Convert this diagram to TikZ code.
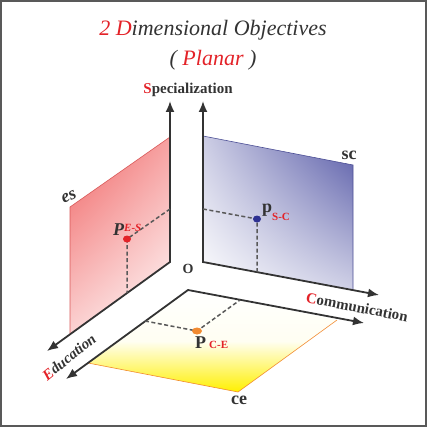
\documentclass[tikz,border=0pt]{standalone}
\usepackage{fontspec}
\setmainfont{Liberation Serif}
\usetikzlibrary{arrows.meta}
\usetikzlibrary{shapes.geometric}
\usetikzlibrary{shadings}
\definecolor{axisgray}{HTML}{333333}
\definecolor{hired}{HTML}{E32228}
\definecolor{esred}{HTML}{F06262}
\definecolor{scblue}{HTML}{5558A6}
\definecolor{dotblue}{HTML}{2E3192}
\definecolor{ceyellow}{HTML}{FFF000}
\definecolor{ceorange}{HTML}{F28A30}
\newcommand{\psub}[2][0pt]{\raisebox{#1}{\fontsize{11}{11}\selectfont\color{hired}#2}}
\tikzset{axis/.style = {draw=axisgray, line width=1.8pt, {Latex[length=11pt,width=9pt]}-{Latex[length=11pt,width=9pt]}}}
\tikzset{guide/.style = {draw=gray!70!black, dash pattern=on 4pt off 2.5pt, line width=1.5pt}}
\tikzset{dot/.style = {ellipse, inner sep=0, minimum width=8pt, minimum height=7pt}}
\tikzset{axlabel/.style = {font=\bfseries\fontsize{15}{15}\selectfont, text=axisgray}}
\tikzset{planelabel/.style = {font=\bfseries\fontsize{18}{18}\selectfont, text=axisgray}}
\tikzset{plab/.style = {planelabel, anchor=base west, inner sep=0}}
\tikzset{title/.style = {font=\itshape\fontsize{22}{22}\selectfont, text=axisgray}}

\begin{document}
\begin{tikzpicture}[x=1pt, y=-1pt]
  \useasboundingbox (0,0) rectangle (427,427);
  \draw[gray!70!black, line width=2pt] (1,1) rectangle (426,426);
  % left system
  \coordinate (Ol) at (170,262);
  \coordinate (Sl) at (170,101);
  \coordinate (El) at (47,351);
  \coordinate (es-top) at (170,137);
  \coordinate (es-far) at (70,207);
  \coordinate (es-low) at (70,334);
  % right system
  \coordinate (Or) at (203,262);
  \coordinate (Sr) at (203,101);
  \coordinate (Cr) at (379,295);
  \coordinate (sc-top) at (203,136);
  \coordinate (sc-far) at (353,165);
  \coordinate (sc-low) at (353,290);
  % bottom system
  \coordinate (Ob) at (188,290);
  \coordinate (Cb) at (364,323);
  \coordinate (Eb) at (66,379);
  \coordinate (ce-c) at (337,320);
  \coordinate (ce-far) at (238,392);
  \coordinate (ce-e) at (88,363);

  % planes
  \shade[upper left=esred, upper right=esred!60, lower left=esred!28, lower right=white]
    (es-top) -- (es-far) -- (es-low) -- (Ol) -- cycle;
  \draw[esred!90!black, line width=0.6pt] (es-low) -- (es-far) -- (es-top);
  \shade[upper left=scblue!30, upper right=scblue, lower left=white, lower right=scblue!28]
    (sc-top) -- (sc-far) -- (sc-low) -- (Or) -- cycle;
  \draw[scblue!90!black, line width=0.6pt] (sc-top) -- (sc-far) -- (sc-low);
  \shade[top color=white, bottom color=ceyellow, middle color=ceyellow!5]
    (Ob) -- (ce-c) -- (ce-far) -- (ce-e) -- cycle;
  \draw[ceorange, line width=0.6pt] (ce-c) -- (ce-far) -- (ce-e);

  % axes
  \draw[axis] (Sl) -- (Ol) -- (El);
  \draw[axis] (Sr) -- (Or) -- (Cr);
  \draw[axis] (Eb) -- (Ob) -- (Cb);

  % points and guides
  \coordinate (es-s) at (170,209);
  \coordinate (es-e) at (127,293);
  \coordinate (sc-s) at (203,209);
  \coordinate (sc-c) at (257,272);
  \coordinate (ce-ee) at (145,321);
  \coordinate (ce-cc) at (240,300);
  \draw[guide] (es-s) -- (127,239) -- (es-e);
  \draw[guide] (sc-s) -- (257,219) -- (sc-c);
  \draw[guide] (ce-ee) -- (197,331) -- (ce-cc);
  \node[dot, fill=hired] (pes) at (127,239) {};
  \node[dot, fill=dotblue] (psc) at (257,219) {};
  \node[dot, fill=ceorange, minimum width=10pt, minimum height=7pt] (pce) at (197,331) {};

  % labels
  \node[plab, font=\bfseries\itshape\fontsize{18}{18}\selectfont] (pes-lab) at (113,235)
    {P\psub[4pt]{E-S}};
  \node[plab] (psc-lab) at (262,212) {p\psub[-8pt]{S-C}};
  \node[plab] (pce-lab) at (195,348) {P\,\psub{C-E}};
  \node[planelabel, font=\bfseries\itshape\fontsize{18}{18}\selectfont, rotate=25] (es-lab) at (69,197) {es};
  \node[planelabel] (sc-lab) at (349,155) {sc};
  \node[planelabel] (ce-lab) at (239,400) {ce};
  \node[axlabel, font=\bfseries\fontsize{14}{14}\selectfont] (o-lab) at (188,269) {O};
  \node[axlabel] (s-lab) at (188,90) {{\color{hired}S}pecialization};
  \node[axlabel, rotate=-11] (c-lab) at (357,307) {{\color{hired}C}ommunication};
  \node[axlabel, font=\bfseries\itshape\fontsize{15}{15}\selectfont, rotate=39] (e-lab) at (69,357)
    {{\color{hired}E}ducation};

  % title
  \node[title] (ttl) at (213,30) {{\color{hired}2 D}imensional Objectives};
  \node[title] (sub) at (213,60) {( {\color{hired}Planar} )};
\end{tikzpicture}
\end{document}
